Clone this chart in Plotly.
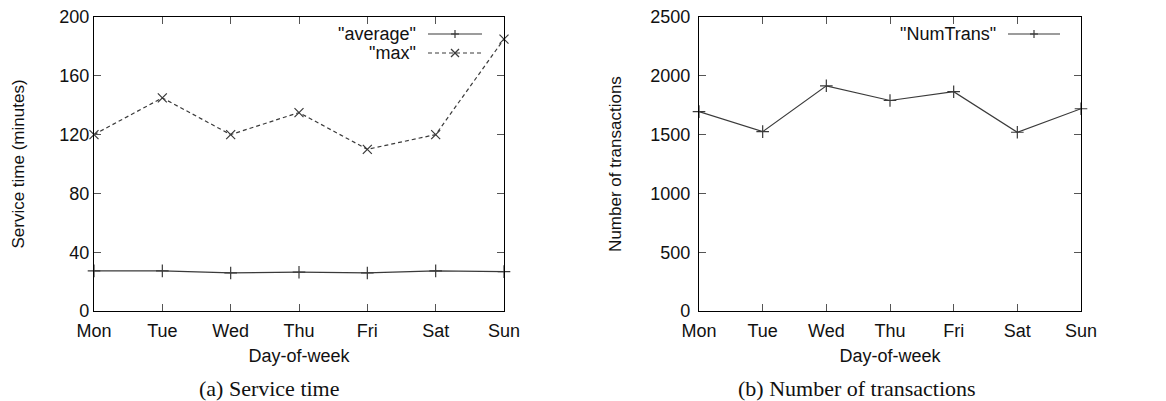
import plotly.graph_objects as go

days = ["Mon", "Tue", "Wed", "Thu", "Fri", "Sat", "Sun"]
avg_service = [27.3, 27.3, 25.9, 26.4, 25.9, 27.3, 26.8]
max_service = [120, 145, 120, 135, 110, 120, 185]
num_trans = [1695, 1525, 1915, 1790, 1865, 1520, 1720]

W, H = 1166, 401
FONT = "Liberation Sans, Arial, sans-serif"
LINE = "#3a3a3a"

def px(x):
    return x / W

def py(y):
    return 1 - y / H

fig = go.Figure()

fig.add_trace(go.Scatter(x=days, y=avg_service, mode="lines+markers", name='"average"',
                         line=dict(color=LINE, width=1.2),
                         marker=dict(symbol="cross-thin", size=9, line=dict(color=LINE, width=1.2)),
                         xaxis="x", yaxis="y", showlegend=False, cliponaxis=False))
fig.add_trace(go.Scatter(x=days, y=max_service, mode="lines+markers", name='"max"',
                         line=dict(color=LINE, width=1.2, dash="4px,3px"),
                         marker=dict(symbol="x-thin", size=9, line=dict(color=LINE, width=1.2)),
                         xaxis="x", yaxis="y", showlegend=False, cliponaxis=False))
fig.add_trace(go.Scatter(x=days, y=num_trans, mode="lines+markers", name='"NumTrans"',
                         line=dict(color=LINE, width=1.2),
                         marker=dict(symbol="cross-thin", size=9, line=dict(color=LINE, width=1.2)),
                         xaxis="x2", yaxis="y2", showlegend=False, cliponaxis=False))

axis_common = dict(showline=True, linecolor="black", linewidth=1.3, mirror="ticks",
                   ticks="inside", ticklen=7, tickcolor="#555", tickwidth=1,
                   showgrid=False, zeroline=False, automargin=False,
                   tickfont=dict(family=FONT, size=18, color="#111"))
xtitle_font = dict(family=FONT, size=18, color="#111")
ytitle_font = dict(family=FONT, size=17, color="#111")

fig.update_layout(
    width=W, height=H,
    margin=dict(l=0, r=0, t=0, b=0, autoexpand=False),
    paper_bgcolor="white", plot_bgcolor="white",
    xaxis=dict(domain=[px(94), px(504)], anchor="y", type="category", range=[0, 6],
               ticklabelstandoff=3,
               title=dict(text="Day-of-week", standoff=9, font=xtitle_font), **axis_common),
    yaxis=dict(domain=[1 - 311 / H, 1 - 17 / H], anchor="x", range=[0, 200], dtick=40,
               title=dict(text="Service time (minutes)", standoff=30, font=ytitle_font), **axis_common),
    xaxis2=dict(domain=[px(699), px(1081)], anchor="y2", type="category", range=[0, 6],
                ticklabelstandoff=3,
                title=dict(text="Day-of-week", standoff=9, font=xtitle_font), **axis_common),
    yaxis2=dict(domain=[1 - 311 / H, 1 - 17 / H], anchor="x2", range=[0, 2500], dtick=500,
                ticklabelstandoff=4,
                title=dict(text="Number of transactions", standoff=24, font=ytitle_font), **axis_common),
)

# captions
for cx, text in [(269, "(a) Service time"), (857, "(b) Number of transactions")]:
    fig.add_annotation(x=px(cx), y=py(388), xref="paper", yref="paper", text=text,
                       showarrow=False, xanchor="center", yanchor="middle",
                       font=dict(family="Liberation Serif, Times New Roman, serif", size=22, color="#111"))

# gnuplot-style keys (text, then line sample with point)
def key(text_right, x0, x1, y, label, dash, sym):
    fig.add_annotation(x=px(text_right), y=py(y), xref="paper", yref="paper", text=label,
                       showarrow=False, xanchor="right", yanchor="middle",
                       font=dict(family=FONT, size=18, color="#111"))
    fig.add_shape(type="line", xref="paper", yref="paper", x0=px(x0), x1=px(x1), y0=py(y), y1=py(y),
                  line=dict(color=LINE, width=1.2, dash=dash))
    c = (x0 + x1) / 2
    s = 4
    if sym == "+":
        segs = [(c - s, y, c + s, y), (c, y - s, c, y + s)]
    else:
        segs = [(c - s, y - s, c + s, y + s), (c - s, y + s, c + s, y - s)]
    for a, b, d, e in segs:
        fig.add_shape(type="line", xref="paper", yref="paper", x0=px(a), y0=py(b), x1=px(d), y1=py(e),
                      line=dict(color=LINE, width=1.2))

key(418, 428, 482, 34, '"average"', "solid", "+")
key(418, 428, 482, 53, '"max"', "4px,3px", "x")
key(998, 1008, 1060, 34, '"NumTrans"', "solid", "+")

fig.write_html("out.html", config={"displayModeBar": False},
               post_script="document.body.style.margin='0';document.body.style.overflow='hidden';")
